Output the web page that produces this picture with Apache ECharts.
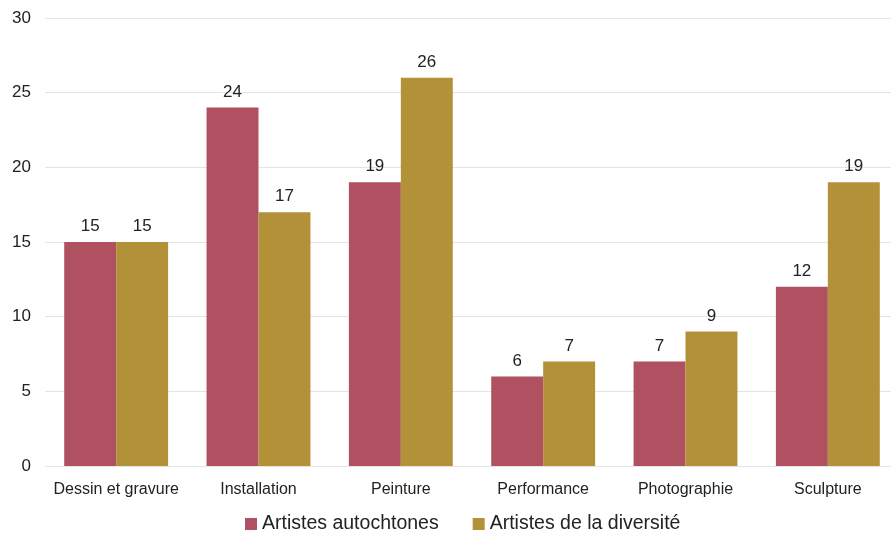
<!DOCTYPE html>
<html>
<head>
<meta charset="utf-8">
<script src="https://cdn.jsdelivr.net/npm/echarts@6/dist/echarts.min.js"></script>
<style>
html,body{margin:0;padding:0;background:#fff;overflow:hidden;}
#chart{width:900px;height:535px;}
</style>
</head>
<body>
<div id="chart"></div>
<script>
// Disciplines and counts per group
const categories = ['Dessin et gravure', 'Installation', 'Peinture', 'Performance', 'Photographie', 'Sculpture'];
const autochtones = [15, 24, 19, 6, 7, 12];
const diversite = [15, 17, 26, 7, 9, 19];
const seriesNames = ['Artistes autochtones', 'Artistes de la diversité'];

const font = '"Liberation Sans", Arial, sans-serif';
const chart = echarts.init(document.getElementById('chart'));

const labelStyle = {
  show: true,
  position: 'top',
  distance: 7,
  color: '#222',
  fontSize: 17,
  fontFamily: font
};

chart.setOption({
  animation: false,
  grid: { left: 45, top: 18, width: 854, height: 448, containLabel: false },
  legend: {
    bottom: -4,
    left: 240,
    itemWidth: 12,
    itemHeight: 12,
    itemGap: 34,
    icon: 'rect',
    textStyle: { fontSize: 19.5, color: '#222', fontFamily: font },
    data: seriesNames
  },
  xAxis: {
    type: 'category',
    data: categories,
    axisLine: { show: false },
    axisTick: { show: false },
    axisLabel: { color: '#222', fontSize: 16, fontFamily: font, margin: 16, interval: 0 }
  },
  yAxis: {
    type: 'value',
    min: 0,
    max: 30,
    interval: 5,
    axisLine: { show: false },
    axisTick: { show: false },
    axisLabel: { color: '#222', fontSize: 17, fontFamily: font, margin: 14 },
    splitLine: { lineStyle: { color: '#e4e4e4', width: 1 } }
  },
  series: [
    {
      name: seriesNames[0],
      type: 'bar',
      data: autochtones,
      barGap: '0%',
      barCategoryGap: '27%',
      itemStyle: { color: '#b05162' },
      label: labelStyle
    },
    {
      name: seriesNames[1],
      type: 'bar',
      data: diversite,
      itemStyle: { color: '#b39139' },
      label: labelStyle
    }
  ]
});
</script>
</body>
</html>
